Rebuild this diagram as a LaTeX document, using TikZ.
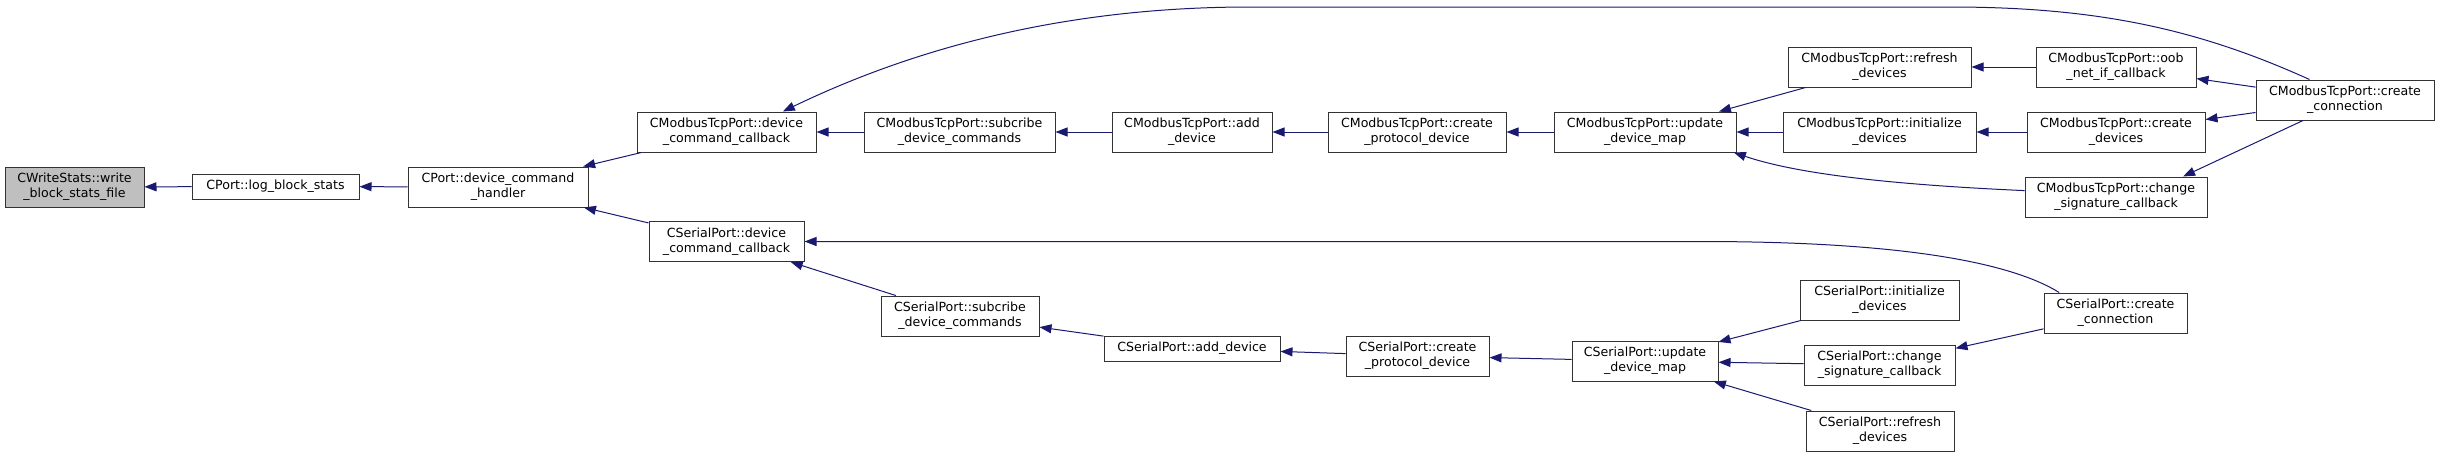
\documentclass[tikz,border=0pt]{standalone}
\usepackage{fontspec}
\setmainfont{DejaVu Sans}
\usetikzlibrary{arrows.meta}
\definecolor{edgeblue}{HTML}{191970}
\tikzstyle{func} = [
    rectangle,
    minimum height=40pt,
    inner sep=0pt,
    align=center,
    draw=black!80,
    line width=1pt,
    font=\fontsize{12.6}{15}\selectfont
]
\tikzstyle{funcline} = [func, minimum height=25pt]
\tikzstyle{current} = [func, fill=gray!50]
\tikzstyle{arrow} = [line width=1pt, edgeblue, ->, >={Triangle[length=12pt,width=9pt]}]

\begin{document}
\begin{tikzpicture}[x=1pt, y=-1pt]

\useasboundingbox (0,0) rectangle (2440,456);

\node (cws) [current, minimum width=139pt] at (74.5,187)
{CWriteStats::write\\\_block\_stats\_file};

\node (log) [funcline, minimum width=167pt] at (275.5,186.5)
{CPort::log\_block\_stats};

\node (hdl) [func, minimum width=180pt] at (498,187)
{CPort::device\_command\\\_handler};

\node (mbdcc) [func, minimum width=179pt] at (726.5,132)
{CModbusTcpPort::device\\\_command\_callback};

\node (mbsub) [func, minimum width=191pt] at (959.5,132)
{CModbusTcpPort::subcribe\\\_device\_commands};

\node (mbadd) [func, minimum width=160pt] at (1192,132)
{CModbusTcpPort::add\\\_device};

\node (mbcpd) [func, minimum width=178pt] at (1417,132)
{CModbusTcpPort::create\\\_protocol\_device};

\node (mbudm) [func, minimum width=182pt] at (1645,132)
{CModbusTcpPort::update\\\_device\_map};

\node (mbref) [func, minimum width=183pt] at (1879.5,67)
{CModbusTcpPort::refresh\\\_devices};

\node (mbini) [func, minimum width=193pt] at (1879.5,132)
{CModbusTcpPort::initialize\\\_devices};

\node (mboob) [func, minimum width=160pt] at (2116,67)
{CModbusTcpPort::oob\\\_net\_if\_callback};

\node (mbcdv) [func, minimum width=178pt] at (2116,132)
{CModbusTcpPort::create\\\_devices};

\node (mbchg) [func, minimum width=182pt] at (2116,197)
{CModbusTcpPort::change\\\_signature\_callback};

\node (mbcon) [func, minimum width=178pt] at (2345,100)
{CModbusTcpPort::create\\\_connection};

\node (spdcc) [func, minimum width=155pt] at (726.5,241.5)
{CSerialPort::device\\\_command\_callback};

\node (spsub) [func, minimum width=158pt] at (960,316)
{CSerialPort::subcribe\\\_device\_commands};

\node (spadd) [funcline, minimum width=176pt] at (1192,348.5)
{CSerialPort::add\_device};

\node (spcpd) [func, minimum width=143pt] at (1417.5,356)
{CSerialPort::create\\\_protocol\_device};

\node (spudm) [func, minimum width=146pt] at (1645,361)
{CSerialPort::update\\\_device\_map};

\node (spini) [func, minimum width=159pt] at (1879.5,300)
{CSerialPort::initialize\\\_devices};

\node (spchg) [func, minimum width=151pt] at (1879.5,365)
{CSerialPort::change\\\_signature\_callback};

\node (spref) [func, minimum width=148pt] at (1880,431)
{CSerialPort::refresh\\\_devices};

\node (spcon) [func, minimum width=143pt] at (2115.5,313)
{CSerialPort::create\\\_connection};

\draw [arrow] (log) -- (cws);
\draw [arrow] (hdl) -- (log);
\draw [arrow] (mbdcc) -- (hdl);
\draw [arrow] (spdcc) -- (hdl);

\draw [arrow] (mbsub) -- (mbdcc);
\draw [arrow] (mbadd) -- (mbsub);
\draw [arrow] (mbcpd) -- (mbadd);
\draw [arrow] (mbudm) -- (mbcpd);
\draw [arrow] (mbref) -- (mbudm);
\draw [arrow] (mbini) -- (mbudm);
\draw [arrow] (mbchg.176) .. controls (1900,185) and (1800,175) .. (mbudm.-13);
\draw [arrow] (mboob) -- (mbref);
\draw [arrow] (mbcdv) -- (mbini);
\draw [arrow] (mbcon) -- (mboob);
\draw [arrow] (mbcon) -- (mbcdv);
\draw [arrow] (mbcon.-154) -- (mbchg.17);
\draw [arrow] (mbcon.150) .. controls (2200,30) and (2100,7) .. (1950,7)
    -- (1250,7) .. controls (1050,7) and (900,55) .. (mbdcc.20);

\draw [arrow] (spsub) -- (spdcc);
\draw [arrow] (spadd) -- (spsub);
\draw [arrow] (spcpd) -- (spadd);
\draw [arrow] (spudm) -- (spcpd);
\draw [arrow] (spini) -- (spudm);
\draw [arrow] (spchg) -- (spudm);
\draw [arrow] (spref) -- (spudm);
\draw [arrow] (spcon) -- (spchg);
\draw [arrow] (spcon.160) .. controls (2010,262) and (1900,241.5) .. (1700,241.5)
    -- (spdcc.east);

\end{tikzpicture}
\end{document}
